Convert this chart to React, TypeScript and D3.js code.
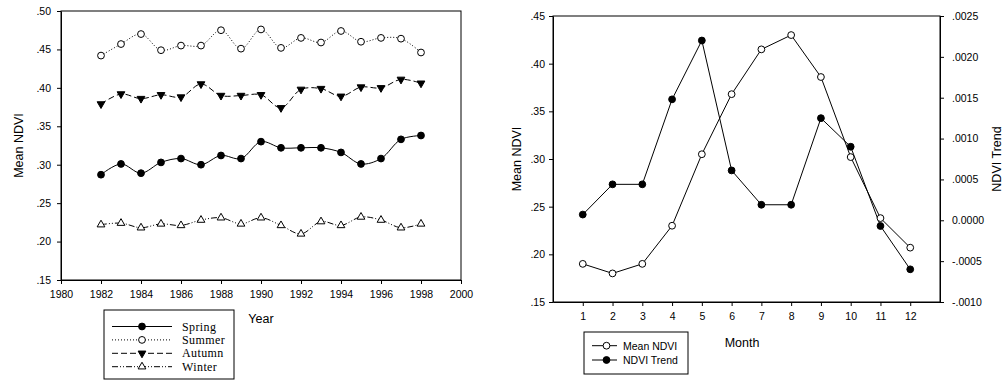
import { useRef, useEffect } from 'react'
import * as d3 from 'd3'

// left panel: seasonal mean NDVI per year
const YEARS = [1982, 1983, 1984, 1985, 1986, 1987, 1988, 1989, 1990, 1991, 1992, 1993, 1994, 1995, 1996, 1997, 1998]
const SPRING = [0.287, 0.301, 0.289, 0.303, 0.308, 0.300, 0.312, 0.308, 0.330, 0.322, 0.322, 0.322, 0.316, 0.301, 0.308, 0.333, 0.338]
const SUMMER = [0.442, 0.457, 0.470, 0.449, 0.455, 0.455, 0.475, 0.451, 0.476, 0.452, 0.465, 0.459, 0.474, 0.460, 0.465, 0.464, 0.446]
const AUTUMN = [0.379, 0.392, 0.386, 0.391, 0.388, 0.405, 0.390, 0.390, 0.391, 0.374, 0.398, 0.399, 0.389, 0.401, 0.400, 0.411, 0.406]
const WINTER = [0.222, 0.224, 0.218, 0.223, 0.221, 0.228, 0.231, 0.223, 0.231, 0.221, 0.210, 0.226, 0.221, 0.232, 0.228, 0.218, 0.223]
const YEAR_TICKS = [1980, 1982, 1984, 1986, 1988, 1990, 1992, 1994, 1996, 1998, 2000]
const LEFT_Y_TICKS = [0.15, 0.20, 0.25, 0.30, 0.35, 0.40, 0.45, 0.50]

// right panel: monthly mean NDVI and trend
const MONTHS = [1, 2, 3, 4, 5, 6, 7, 8, 9, 10, 11, 12]
const MEAN_NDVI = [0.190, 0.180, 0.190, 0.230, 0.305, 0.368, 0.415, 0.430, 0.386, 0.302, 0.238, 0.207]
const NDVI_TREND = [0.00007, 0.00044, 0.00044, 0.00148, 0.0022, 0.00061, 0.00019, 0.00019, 0.00125, 0.0009, -0.00007, -0.0006]
const RIGHT_Y_TICKS = [0.15, 0.20, 0.25, 0.30, 0.35, 0.40, 0.45]
const TREND_TICKS = [-0.0010, -0.0005, 0.0, 0.0005, 0.0010, 0.0015, 0.0020, 0.0025]

const SEASONS = [
  { label: 'Spring', values: SPRING, marker: 'fill', dash: null },
  { label: 'Summer', values: SUMMER, marker: 'open', dash: '1,2' },
  { label: 'Autumn', values: AUTUMN, marker: 'down', dash: '6,3' },
  { label: 'Winter', values: WINTER, marker: 'up', dash: '6,2,1,2,1,2' },
]

const SANS = 'Liberation Sans, Arial, sans-serif'
const SERIF = 'Liberation Serif, Times New Roman, serif'

function drawMarker(g: any, kind: string, x: number, y: number) {
  if (kind === 'fill' || kind === 'open') {
    g.append('circle').attr('cx', x).attr('cy', y).attr('r', 3.4)
      .attr('fill', kind === 'fill' ? '#000' : '#fff').attr('stroke', '#000').attr('stroke-width', 1)
  } else {
    const sym = d3.symbol().type(d3.symbolTriangle).size(26)
    g.append('path').attr('d', sym())
      .attr('transform', `translate(${x},${y})${kind === 'down' ? ' rotate(180)' : ''}`)
      .attr('fill', kind === 'down' ? '#000' : '#fff').attr('stroke', '#000').attr('stroke-width', 1)
  }
}

function styleAxis(g: any) {
  g.attr('font-family', SANS).attr('font-size', 10.5)
  g.selectAll('path,line').attr('stroke', '#000')
  g.selectAll('text').attr('fill', '#000')
}

export default function App() {
  const svgRef = useRef<SVGSVGElement>(null)

  useEffect(() => {
    const svg = d3.select(svgRef.current)
    svg.selectAll('*').remove()

    // ---------- left panel ----------
    const L = { l: 61, r: 461, t: 11, b: 280 }
    const x = d3.scaleLinear().domain([1980, 2000]).range([L.l, L.r])
    const y = d3.scaleLinear().domain([0.15, 0.50]).range([L.b, L.t])
    const left = svg.append('g')

    left.append('rect').attr('x', L.l).attr('y', L.t).attr('width', L.r - L.l).attr('height', L.b - L.t)
      .attr('fill', 'none').attr('stroke', '#000').attr('stroke-width', 1)

    left.append('g').attr('transform', `translate(0,${L.b})`)
      .call(d3.axisBottom(x).tickValues(YEAR_TICKS).tickFormat(d3.format('d')).tickSize(4).tickPadding(7).tickSizeOuter(0))
      .call(styleAxis)
    left.append('g').attr('transform', `translate(${L.l},0)`)
      .call(d3.axisLeft(y).tickValues(LEFT_Y_TICKS).tickFormat((d: any) => d.toFixed(2).replace(/^0/, '')).tickSize(4).tickPadding(6).tickSizeOuter(0))
      .call(styleAxis)

    const line = d3.line<number>().x((_, i) => x(YEARS[i])).y(d => y(d)).curve(d3.curveCatmullRom.alpha(0.5))
    SEASONS.forEach(s => {
      left.append('path').attr('d', line(s.values)).attr('fill', 'none').attr('stroke', '#000')
        .attr('stroke-width', 1).attr('stroke-dasharray', s.dash)
      s.values.forEach((v, i) => drawMarker(left, s.marker, x(YEARS[i]), y(v)))
    })

    left.append('text').attr('transform', `translate(23,${(L.t + L.b) / 2}) rotate(-90)`)
      .attr('text-anchor', 'middle').attr('font-family', SANS).attr('font-size', 12.5).text('Mean NDVI')
    left.append('text').attr('x', (L.l + L.r) / 2).attr('y', 323)
      .attr('text-anchor', 'middle').attr('font-family', SANS).attr('font-size', 12.5).text('Year')

    // legend
    const lg = left.append('g')
    lg.append('rect').attr('x', 104).attr('y', 310).attr('width', 130).attr('height', 69)
      .attr('fill', '#fff').attr('stroke', '#000')
    SEASONS.forEach((s, i) => {
      const ry = 326.5 + i * 13.4
      lg.append('line').attr('x1', 112).attr('x2', 172).attr('y1', ry).attr('y2', ry)
        .attr('stroke', '#000').attr('stroke-dasharray', s.dash)
      drawMarker(lg, s.marker, 142, ry)
      lg.append('text').attr('x', 182).attr('y', ry + 4).attr('font-family', SERIF).attr('font-size', 12)
        .attr('letter-spacing', 0.4).text(s.label)
    })

    // ---------- right panel ----------
    const R = { l: 553, r: 940, t: 16, b: 302 }
    const mx = d3.scaleLinear().domain([0, 13]).range([R.l, R.r])
    const my = d3.scaleLinear().domain([0.15, 0.45]).range([R.b, R.t])
    const ty = d3.scaleLinear().domain([-0.0010, 0.0025]).range([R.b, R.t])
    const right = svg.append('g')

    right.append('rect').attr('x', R.l).attr('y', R.t).attr('width', R.r - R.l).attr('height', R.b - R.t)
      .attr('fill', 'none').attr('stroke', '#000')

    right.append('g').attr('transform', `translate(0,${R.b})`)
      .call(d3.axisBottom(mx).tickValues(MONTHS).tickFormat(d3.format('d')).tickSize(4).tickPadding(7).tickSizeOuter(0))
      .call(styleAxis)
    right.append('g').attr('transform', `translate(${R.l},0)`)
      .call(d3.axisLeft(my).tickValues(RIGHT_Y_TICKS).tickFormat((d: any) => d.toFixed(2).replace(/^0/, '')).tickSize(4).tickPadding(4).tickSizeOuter(0))
      .call(styleAxis)
    right.append('g').attr('transform', `translate(${R.r},0)`)
      .call(d3.axisRight(ty).tickValues(TREND_TICKS)
        .tickFormat((d: any) => Math.abs(d) < 1e-9 ? '0.0000' : (d < 0 ? '-' : '') + Math.abs(d).toFixed(4).replace(/^0/, ''))
        .tickSize(4).tickPadding(8).tickSizeOuter(0))
      .call(styleAxis)

    const trendLine = d3.line<number>().x((_, i) => mx(MONTHS[i])).y(d => ty(d))
    const meanLine = d3.line<number>().x((_, i) => mx(MONTHS[i])).y(d => my(d))
    right.append('path').attr('d', trendLine(NDVI_TREND)).attr('fill', 'none').attr('stroke', '#000')
    NDVI_TREND.forEach((v, i) => drawMarker(right, 'fill', mx(MONTHS[i]), ty(v)))
    right.append('path').attr('d', meanLine(MEAN_NDVI)).attr('fill', 'none').attr('stroke', '#000')
    MEAN_NDVI.forEach((v, i) => drawMarker(right, 'open', mx(MONTHS[i]), my(v)))

    right.append('text').attr('transform', `translate(521,${(R.t + R.b) / 2}) rotate(-90)`)
      .attr('text-anchor', 'middle').attr('font-family', SANS).attr('font-size', 12.5).text('Mean NDVI')
    right.append('text').attr('transform', `translate(1001,${(R.t + R.b) / 2}) rotate(-90)`)
      .attr('text-anchor', 'middle').attr('font-family', SANS).attr('font-size', 12.5).text('NDVI Trend')
    right.append('text').attr('x', 742).attr('y', 347)
      .attr('text-anchor', 'middle').attr('font-family', SANS).attr('font-size', 12.5).text('Month')

    const rl = right.append('g')
    rl.append('rect').attr('x', 584).attr('y', 332).attr('width', 104).attr('height', 42)
      .attr('fill', '#fff').attr('stroke', '#000')
    ;[{ label: 'Mean NDVI', marker: 'open' }, { label: 'NDVI Trend', marker: 'fill' }].forEach((e, i) => {
      const ry = 345.7 + i * 14.3
      rl.append('line').attr('x1', 592).attr('x2', 617).attr('y1', ry).attr('y2', ry).attr('stroke', '#000')
      drawMarker(rl, e.marker, 606.5, ry)
      rl.append('text').attr('x', 623).attr('y', ry + 4).attr('font-family', SANS).attr('font-size', 10.5).text(e.label)
    })
  }, [])

  return (
    <svg ref={svgRef} width={1003} height={381}
      style={{ position: 'absolute', left: 0, top: 0, background: '#fff' }} />
  )
}
